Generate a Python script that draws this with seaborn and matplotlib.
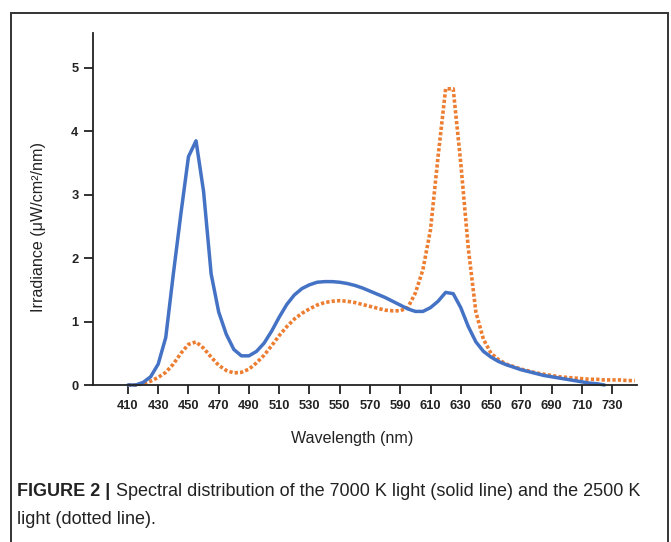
import matplotlib.pyplot as plt
import matplotlib.patches as patches
import pandas as pd
import seaborn as sns

# Spectral data (nm, uW/cm2/nm)
wl_7000 = [410, 415, 420, 425, 430, 435, 440, 445, 450, 455, 460, 465, 470, 475, 480,
           485, 490, 495, 500, 505, 510, 515, 520, 525, 530, 535, 540, 545, 550, 555,
           560, 565, 570, 575, 580, 585, 590, 595, 600, 605, 610, 615, 620, 625, 630,
           635, 640, 645, 650, 655, 660, 665, 670, 675, 680, 685, 690, 695, 700, 705,
           710, 715, 720, 725]
irr_7000 = [0.0, 0.0, 0.04, 0.13, 0.33, 0.75, 1.75, 2.7, 3.6, 3.85, 3.05, 1.75, 1.15, 0.8, 0.56,
            0.46, 0.46, 0.53, 0.66, 0.85, 1.07, 1.27, 1.42, 1.52, 1.58, 1.62, 1.63, 1.63, 1.62, 1.6,
            1.57, 1.53, 1.48, 1.43, 1.38, 1.32, 1.26, 1.2, 1.16, 1.16, 1.22, 1.32, 1.46, 1.44, 1.22,
            0.92, 0.68, 0.53, 0.44, 0.37, 0.32, 0.28, 0.24, 0.21, 0.18, 0.15, 0.13, 0.11, 0.09, 0.07,
            0.05, 0.03, 0.02, 0.0]

wl_2500 = [410, 415, 420, 425, 430, 435, 440, 445, 450, 455, 460, 465, 470, 475, 480,
           485, 490, 495, 500, 505, 510, 515, 520, 525, 530, 535, 540, 545, 550, 555,
           560, 565, 570, 575, 580, 585, 590, 595, 600, 605, 610, 615, 620, 625, 630,
           635, 640, 645, 650, 655, 660, 665, 670, 675, 680, 685, 690, 695, 700, 705,
           710, 715, 720, 725, 730, 735, 740, 745]
irr_2500 = [0.0, 0.0, 0.02, 0.06, 0.12, 0.2, 0.33, 0.5, 0.64, 0.68, 0.58, 0.44, 0.31, 0.23, 0.19,
            0.2, 0.25, 0.35, 0.47, 0.62, 0.78, 0.92, 1.04, 1.13, 1.2, 1.26, 1.3, 1.32, 1.33, 1.32,
            1.3, 1.27, 1.24, 1.21, 1.18, 1.17, 1.17, 1.22, 1.45, 1.82, 2.45, 3.6, 4.67, 4.67, 3.5,
            2.15, 1.15, 0.72, 0.5, 0.4, 0.33, 0.29, 0.25, 0.22, 0.19, 0.17, 0.15, 0.13, 0.12, 0.11,
            0.1, 0.09, 0.09, 0.08, 0.08, 0.08, 0.07, 0.07]

x_ticks = list(range(410, 731, 20))
y_ticks = [0, 1, 2, 3, 4, 5]

df_7000 = pd.DataFrame({"wavelength": wl_7000, "irradiance": irr_7000})
df_2500 = pd.DataFrame({"wavelength": wl_2500, "irradiance": irr_2500})

sns.set_style("white")
plt.rcParams["font.family"] = ["Liberation Sans", "DejaVu Sans"]

fig = plt.figure(figsize=(6.71, 5.42), dpi=100)
ax = fig.add_axes([93 / 671, 1 - 385 / 542, (637 - 93) / 671, (385 - 33) / 542])

sns.lineplot(data=df_2500, x="wavelength", y="irradiance", ax=ax, color="#ED7D31",
             linewidth=2.6, linestyle=(0, (0.9, 0.6)), clip_on=False)
sns.lineplot(data=df_7000, x="wavelength", y="irradiance", ax=ax, color="#4472C4",
             linewidth=2.5, clip_on=False)
for line in ax.get_lines():
    line.set_dash_capstyle("butt")

ax.set_xlim(386.9, 746.5)
ax.set_ylim(0, 5.55)
ax.set_xticks(x_ticks)
ax.set_yticks(y_ticks)
ax.set_xticklabels([str(v) for v in x_ticks], fontsize=9.3, fontweight="bold", color="#222222")
ax.set_yticklabels([str(v) for v in y_ticks], fontsize=9.3, fontweight="bold", color="#222222")
ax.tick_params(axis="both", direction="out", length=6.5, width=1.3, color="#222222", pad=4,
               bottom=True, left=True)

sns.despine(ax=ax)
for side in ["left", "bottom"]:
    ax.spines[side].set_linewidth(1.3)
    ax.spines[side].set_color("#222222")

ax.set_xlabel("Wavelength (nm)", fontsize=11.6, color="#222222")
ax.set_ylabel("Irradiance (\u03bcW/cm\u00b2/nm)", fontsize=11.6, color="#222222")
ax.xaxis.set_label_coords((352 - 93) / 544, -(431 - 385) / 352)
ax.yaxis.set_label_coords(-(93 - 46) / 544, (385 - 227) / 352)

# Frame around figure + caption
fig.patches.append(patches.Rectangle((11 / 671, -0.1), (668 - 11) / 671, 1.1 - 13 / 542,
                                     transform=fig.transFigure, fill=False,
                                     edgecolor="#333333", linewidth=1.4))

cap1 = fig.text(17 / 671, 1 - 492 / 542, "FIGURE 2 |", fontsize=13, fontweight="bold",
                color="#222222", va="center", ha="left")
fig.canvas.draw()
bb = cap1.get_window_extent()
fig.text(bb.x1 / 671 + 6 / 671, 1 - 492 / 542,
         "Spectral distribution of the 7000 K light (solid line) and the 2500 K",
         fontsize=13, color="#222222", va="center", ha="left")
fig.text(17 / 671, 1 - 520 / 542, "light (dotted line).", fontsize=13,
         color="#222222", va="center", ha="left")

plt.savefig("out.png", dpi=100)
plt.close()
